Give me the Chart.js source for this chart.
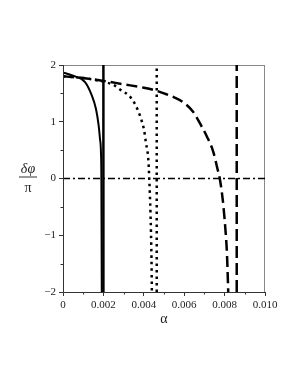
<!DOCTYPE html>
<html>
<head>
<meta charset="utf-8">
<script src="https://cdn.jsdelivr.net/npm/chart.js@4/dist/chart.umd.min.js"></script>
<style>
  html, body { margin: 0; padding: 0; background: #fff; }
  #wrap { width: 300px; height: 388px; }
</style>
</head>
<body>
<div id="wrap"><canvas id="chart" width="300" height="388"></canvas></div>
<script>
const solidA = [0, 0.0005, 0.00109, 0.00142, 0.00163, 0.00176, 0.00183, 0.00188, 0.0019, 0.00191, 0.00192];
const solidPhi = [1.87, 1.81, 1.70, 1.47, 1.23, 0.95, 0.70, 0.45, 0.0, -1.0, -2.0];

const dottedA = [0, 0.001, 0.00182, 0.00249, 0.00282, 0.00337, 0.0037, 0.0039, 0.00401, 0.00411, 0.00422, 0.00427, 0.00433, 0.00438, 0.0044];
const dottedPhi = [1.80, 1.77, 1.72, 1.65, 1.57, 1.42, 1.21, 1.01, 0.86, 0.62, 0.35, 0.0, -0.6, -1.4, -2.0];

const dashedA = [0, 0.001, 0.002, 0.003, 0.004, 0.0045, 0.005, 0.0055, 0.006, 0.00645, 0.00686, 0.00711, 0.00744, 0.00764, 0.00776, 0.0079, 0.00803, 0.00812, 0.00818];
const dashedPhi = [1.80, 1.77, 1.72, 1.66, 1.60, 1.56, 1.50, 1.43, 1.33, 1.17, 0.92, 0.75, 0.47, 0.18, 0.0, -0.35, -0.85, -1.35, -2.0];

// vertical asymptote lines
const asymA = [0.002, 0.00464, 0.0086];

const xTicks = [0, 0.002, 0.004, 0.006, 0.008, 0.010];
const yTicks = [-2, -1, 0, 1, 2];

const pts = (xs, ys) => xs.map((x, i) => ({ x: x, y: ys[i] }));
const vline = (a) => [{ x: a, y: -2 }, { x: a, y: 2 }];

const serif = "'Liberation Serif', 'DejaVu Serif', serif";

const extras = {
  id: "extras",
  beforeDatasetsDraw(chart) {
    const { ctx, chartArea: a } = chart;
    ctx.save();
    ctx.strokeStyle = "#888";
    ctx.lineWidth = 1;
    ctx.strokeRect(a.left + 0.5, a.top + 0.5, a.right - a.left - 1, a.bottom - a.top);
    ctx.restore();
  },
  afterDraw(chart) {
    const { ctx, chartArea: a, scales } = chart;
    const x = scales.x, y = scales.y;
    ctx.save();
    ctx.strokeStyle = "#333";
    ctx.lineWidth = 1;
    // axes
    ctx.beginPath();
    ctx.moveTo(a.left + 0.5, a.top);
    ctx.lineTo(a.left + 0.5, a.bottom + 0.5);
    ctx.lineTo(a.right, a.bottom + 0.5);
    ctx.stroke();
    // minor ticks
    ctx.beginPath();
    for (let v = 0.001; v < 0.0101; v += 0.002) {
      const px = Math.round(x.getPixelForValue(v)) + 0.5;
      ctx.moveTo(px, a.bottom);
      ctx.lineTo(px, a.bottom + 2.5);
    }
    for (let v = -1.5; v < 2; v += 1) {
      const py = Math.round(y.getPixelForValue(v)) + 0.5;
      ctx.moveTo(a.left, py);
      ctx.lineTo(a.left - 2.5, py);
    }
    ctx.stroke();
    // axis titles
    ctx.fillStyle = "#222";
    ctx.textAlign = "center";
    ctx.textBaseline = "middle";
    ctx.font = "italic 14px " + serif;
    const cy = y.getPixelForValue(0);
    ctx.fillText("δφ", 28, cy - 9);
    ctx.beginPath();
    ctx.moveTo(19, cy - 1.5);
    ctx.lineTo(37, cy - 1.5);
    ctx.stroke();
    ctx.font = "14px " + serif;
    ctx.fillText("π", 28, cy + 10);
    ctx.fillText("α", x.getPixelForValue(0.005), 319);
    ctx.restore();
  },
};

new Chart(document.getElementById("chart"), {
  type: "line",
  data: {
    datasets: [
      {
        label: "zero",
        data: [{ x: 0, y: 0 }, { x: 0.010, y: 0 }],
        borderColor: "#000",
        borderWidth: 1.5,
        borderDash: [7, 3, 2, 3],
      },
      {
        label: "solid",
        data: pts(solidA, solidPhi),
        borderColor: "#000",
        borderWidth: 2,
        cubicInterpolationMode: "monotone",
      },
      {
        label: "dotted",
        data: pts(dottedA, dottedPhi),
        borderColor: "#000",
        borderWidth: 2.5,
        borderDash: [2.5, 4],
        cubicInterpolationMode: "monotone",
      },
      {
        label: "dashed",
        data: pts(dashedA, dashedPhi),
        borderColor: "#000",
        borderWidth: 2.5,
        borderDash: [11, 5],
        cubicInterpolationMode: "monotone",
      },
      {
        label: "asym1",
        data: vline(asymA[0]),
        borderColor: "#000",
        borderWidth: 2.5,
      },
      {
        label: "asym2",
        data: vline(asymA[1]),
        borderColor: "#000",
        borderWidth: 2.5,
        borderDash: [2.5, 4],
      },
      {
        label: "asym3",
        data: vline(asymA[2]),
        borderColor: "#000",
        borderWidth: 2.5,
        borderDash: [12, 5],
      },
    ],
  },
  options: {
    responsive: false,
    animation: false,
    events: [],
    clip: 0,
    elements: { point: { radius: 0 }, line: { fill: false } },
    layout: { padding: { left: 0, right: 35, top: 65, bottom: 66 } },
    plugins: { legend: { display: false }, tooltip: { enabled: false } },
    scales: {
      x: {
        type: "linear",
        min: 0,
        max: 0.010,
        afterFit: (s) => { s.height = 30; },
        afterBuildTicks: (s) => { s.ticks = xTicks.map((v) => ({ value: v })); },
        ticks: {
          color: "#222",
          padding: 3,
          maxRotation: 0,
          font: { family: serif, size: 11 },
          callback: (v) => (v === 0 ? "0" : v.toFixed(3)),
        },
        grid: { display: true, drawOnChartArea: false, tickLength: 4, color: "#333" },
        border: { display: false },
      },
      y: {
        type: "linear",
        min: -2,
        max: 2,
        afterFit: (s) => { s.width = 63; },
        afterBuildTicks: (s) => { s.ticks = yTicks.map((v) => ({ value: v })); },
        ticks: {
          color: "#222",
          padding: 3,
          font: { family: serif, size: 11 },
          callback: (v) => (v < 0 ? "\u2212" + Math.abs(v) : String(v)),
        },
        grid: { display: true, drawOnChartArea: false, tickLength: 4, color: "#333" },
        border: { display: false },
      },
    },
  },
  plugins: [extras],
});
</script>
</body>
</html>
